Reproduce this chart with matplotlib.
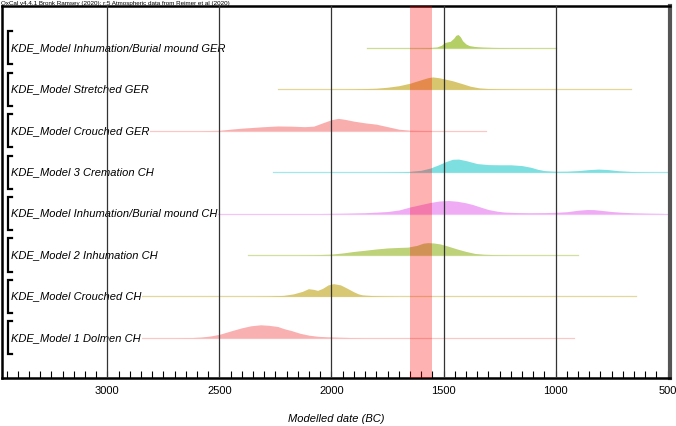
import numpy as np
import matplotlib.pyplot as plt
from matplotlib.ticker import MultipleLocator
import matplotlib.transforms as mtransforms

plt.rcParams['font.family'] = ['Liberation Sans', 'DejaVu Sans']

# Rows from top to bottom
labels = [
    "KDE_Model Inhumation/Burial mound GER",
    "KDE_Model Stretched GER",
    "KDE_Model Crouched GER",
    "KDE_Model 3 Cremation CH",
    "KDE_Model Inhumation/Burial mound CH",
    "KDE_Model 2 Inhumation CH",
    "KDE_Model Crouched CH",
    "KDE_Model 1 Dolmen CH",
]
colors = ['#b3cf66', '#d7c66e', '#f9aeae', '#7ddfe0',
          '#efacf5', '#bed27a', '#d8c873', '#f9b0b0']

# range lines (BC): start, end
range_start = [1840, 2237, 2900, 2259, 2600, 2371, 2950, 2950]
range_end = [1000, 665, 1312, 480, 480, 902, 643, 920]

# KDE outlines (year BC, relative height)
yrs1 = [1600, 1560, 1530, 1510, 1495, 1485, 1470, 1455, 1445, 1435, 1425, 1415, 1400, 1385, 1360, 1330, 1280, 1200, 1100]
den1 = [0, 0.3, 0.8, 2.5, 5.2, 5.8, 6.5, 9.5, 12.5, 13.3, 11, 7, 3.8, 2.2, 1.3, 0.8, 0.4, 0.1, 0]

yrs2 = [2000, 1900, 1800, 1750, 1700, 1650, 1600, 1570, 1549, 1520, 1490, 1460, 1420, 1380, 1340, 1300, 1250, 1150]
den2 = [0, 0.3, 1, 2, 3.5, 6, 9.5, 11.5, 12.3, 11.5, 10, 8.5, 5.8, 3, 1.3, 0.7, 0.3, 0]

yrs3 = [2600, 2500, 2450, 2400, 2300, 2240, 2180, 2120, 2080, 2040, 2000, 1970, 1940, 1900, 1850, 1800, 1750, 1700, 1650, 1550]
den3 = [0, 0.3, 1.5, 2.5, 4, 4.7, 4.5, 4, 4.5, 7.8, 11, 12.3, 11.3, 9.5, 7.8, 6.5, 4, 1.5, 0.4, 0]

yrs4 = [1800, 1700, 1650, 1600, 1560, 1520, 1490, 1460, 1433, 1400, 1350, 1300, 1250, 1200, 1150, 1110, 1080, 1050,
        1000, 950, 900, 850, 810, 770, 720, 670, 620, 560]
den4 = [0, 0.3, 0.7, 1.8, 4, 7.5, 10.5, 12.8, 13, 11.5, 8.5, 7.5, 7.3, 7.3, 6.5, 4.8, 2.8, 1.5,
        0.8, 0.9, 1.5, 2.5, 3, 2.6, 1.4, 0.7, 0.3, 0]

yrs5 = [2050, 1950, 1850, 1750, 1700, 1650, 1600, 1560, 1520, 1478, 1440, 1400, 1370, 1340, 1300, 1260, 1230, 1180,
        1120, 1050, 1000, 950, 900, 860, 830, 790, 750, 700, 650, 580, 520]
den5 = [0, 0.3, 0.8, 2, 3.5, 6.5, 9, 11, 12.5, 13, 12.3, 10.7, 9, 6.8, 4, 2.3, 1.5, 1,
        0.8, 0.9, 1.2, 1.8, 3.3, 4, 3.9, 3, 2, 1.2, 0.7, 0.3, 0.1]

yrs6 = [2150, 2080, 2000, 1950, 1900, 1850, 1800, 1750, 1700, 1660, 1620, 1590, 1571, 1545, 1515, 1480, 1440, 1400,
        1360, 1320, 1270, 1200]
den6 = [0, 0.2, 0.8, 2, 3.5, 4.7, 6, 7, 7.5, 7.8, 9.5, 11.8, 12.3, 12, 11, 8.8, 6, 3.5,
        1.5, 0.7, 0.3, 0]

yrs7 = [2350, 2280, 2214, 2170, 2130, 2103, 2080, 2062, 2040, 2015, 1991, 1960, 1929, 1900, 1880, 1862, 1820, 1770, 1700]
den7 = [0, 0.3, 1, 2.5, 5, 7.7, 7, 6, 8, 11.5, 12.7, 11.5, 8, 4.5, 2.5, 1.5, 0.8, 0.3, 0]

yrs8 = [2700, 2620, 2580, 2540, 2500, 2470, 2440, 2400, 2360, 2317, 2280, 2240, 2210, 2180, 2140, 2100, 2060, 2020,
        1980, 1920, 1850]
den8 = [0, 0.3, 0.8, 1.8, 3.5, 5.5, 7.5, 10, 12, 13, 12.5, 11.3, 9, 7.3, 4.5, 2.6, 1.5, 1,
        0.7, 0.3, 0]

kde_years = [yrs1, yrs2, yrs3, yrs4, yrs5, yrs6, yrs7, yrs8]
kde_dens = [den1, den2, den3, den4, den5, den6, den7, den8]

band = (1650, 1550)
major_ticks = [3000, 2500, 2000, 1500, 1000, 500]

fig = plt.figure(figsize=(6.76, 4.26), dpi=100)
ax = fig.add_axes([0.003, 0.1127, 0.988, 0.8733])

n = len(labels)
scale = 1 / 41.4
tr = mtransforms.blended_transform_factory(ax.transAxes, ax.transData)
for i in range(n):
    base = n - 1 - i
    ax.plot([range_start[i], range_end[i]], [base, base], color=colors[i], lw=0.9, alpha=0.7, zorder=2)
    ax.fill_between(kde_years[i], base, base + np.array(kde_dens[i]) * scale,
                    color=colors[i], lw=0, zorder=2)
    ax.text(0.014, base, labels[i], transform=tr,
            fontsize=8, style='italic', va='center', ha='left', zorder=3,
            bbox=dict(facecolor='white', edgecolor='none', pad=0.5))
    # bracket
    ax.plot([0.015, 0.0085, 0.0085, 0.015], [base + 0.4, base + 0.4, base - 0.4, base - 0.4],
            transform=tr, color='black', lw=1.6, solid_joinstyle='miter', zorder=4, clip_on=False)

ax.axvspan(band[0], band[1], color='red', alpha=0.3, lw=0, zorder=3)

for t in major_ticks[:-1]:
    ax.axvline(t, color='#333333', lw=0.9, zorder=5)

ax.set_xlim(3470, 490)
ax.set_ylim(-0.97, n - 1 + 1.01)
ax.set_xticks(major_ticks)
ax.xaxis.set_minor_locator(MultipleLocator(50))
ax.tick_params(axis='x', which='both', direction='in', top=False, labelsize=8, pad=6)
ax.tick_params(axis='x', which='major', length=5, width=0.8)
ax.tick_params(axis='x', which='minor', length=5, width=0.8)
ax.set_yticks([])

for s in ['left', 'bottom', 'top']:
    ax.spines[s].set_linewidth(1.8)
ax.spines['right'].set_linewidth(3)
ax.spines['right'].set_color('#555555')

ax.set_xlabel('Modelled date (BC)', fontsize=8, style='italic', labelpad=13)

fig.text(0.002, 0.998, 'OxCal v4.4.1 Bronk Ramsey (2020); r:5 Atmospheric data from Reimer et al (2020)',
         fontsize=4.5, va='top', ha='left')

fig.savefig('out.png', dpi=100)
